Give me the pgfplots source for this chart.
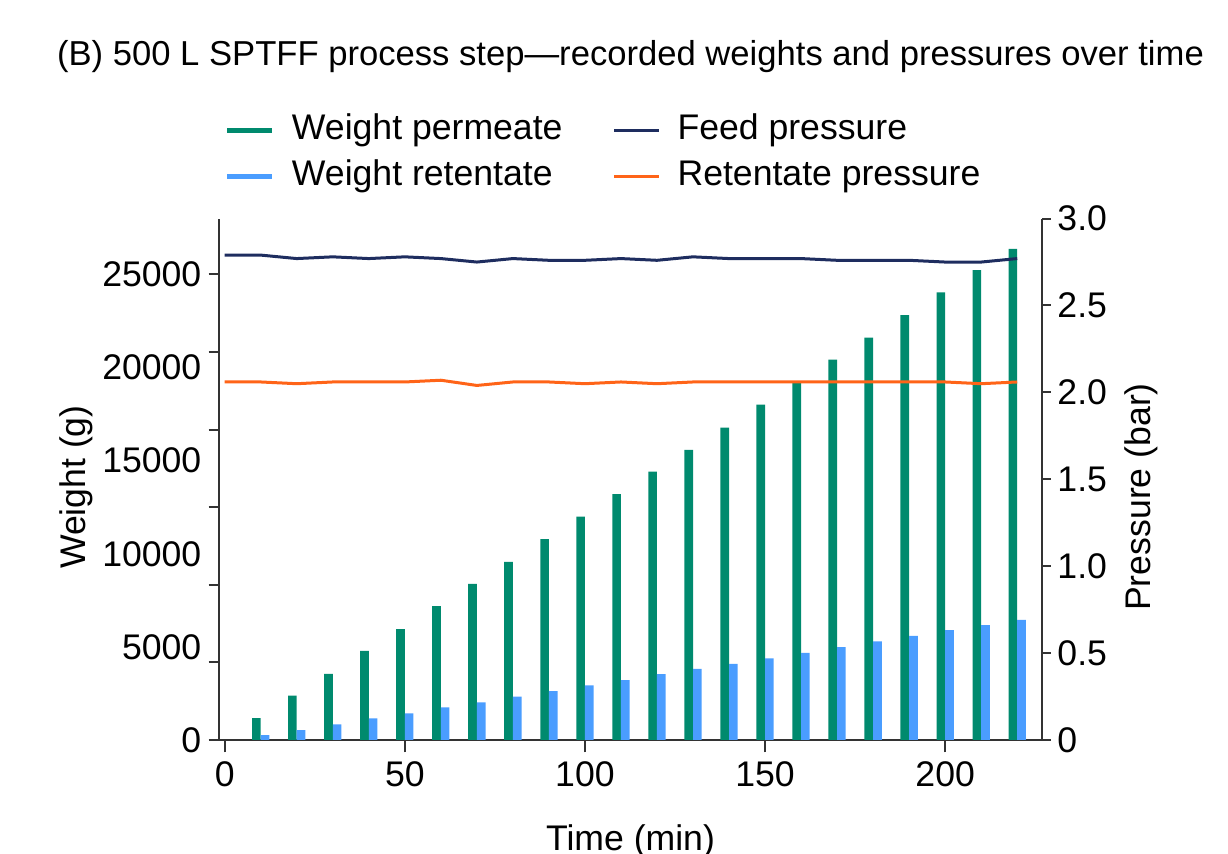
\documentclass[border=0pt]{standalone}
\usepackage{fontspec}
\setmainfont{Liberation Sans}
\usepackage{pgfplots}
\pgfplotsset{compat=1.18}

\definecolor{permc}{HTML}{008A6E}
\definecolor{retc}{HTML}{4A9DFF}
\definecolor{feedc}{HTML}{1E2D5F}
\definecolor{rpc}{HTML}{FF6418}
\definecolor{axc}{HTML}{333333}

\newcommand\cf{\fontsize{14.3}{17}\selectfont}

\pgfplotsset{
  base/.style={
    scale only axis, width=328.96bp, height=208.56bp,
    at={(0,0)}, anchor=south west,
    xmin=-1.5, xmax=226.8,
    tick align=outside,
    axis line style={axc, line width=0.8bp},
    every tick/.style={axc, line width=0.8bp},
    /pgf/number format/assume math mode=true,
    scaled y ticks=false,
    tick label style={font=\cf},
    label style={font=\cf},
  },
}

\begin{document}
\cf
\begin{tikzpicture}[font=\cf]
% left axis: weights as bars
\begin{axis}[base,
  axis y line*=left, axis x line*=bottom,
  ymin=0, ymax=28000,
  ybar, bar width=2.4,
  xtick={0,50,100,150,200},
  xticklabel style={inner sep=0pt, anchor=north, yshift=-3.6bp},
  major tick length=4.9bp,
  ytick={0,5000,10000,15000,20000,25000},
  yticklabels={0,5000,10000,15000,20000,25000},
  every major y tick/.style={draw=none},
  minor ytick={0,4166.67,8333.33,12500,16666.67,20833.33,25000},
  minor tick length=4.3bp,
  every minor y tick/.style={axc, line width=0.8bp},
  yticklabel style={inner sep=0pt, anchor=east, xshift=-2.1bp},
  xlabel={Time (min)},
  xlabel style={at={(axis description cs:0.5,-0.211)}, anchor=base},
  ylabel={Weight (g)},
  ylabel style={at={(axis description cs:-0.1742,0.485)}, anchor=center},
  title={(B) 500 L SPTFF process step—recorded weights and pressures over time},
  title style={at={(axis description cs:0.5,1.2658)}, anchor=base,
    font=\fontsize{13.9}{16}\selectfont},
]
\addplot[draw=none, fill=permc, bar shift=-1.2] coordinates {
  (10,1180) (20,2377) (30,3557) (40,4791) (50,5955) (60,7189) (70,8386)
  (80,9566) (90,10784) (100,12001) (110,13198) (120,14416) (130,15575)
  (140,16776) (150,18010) (160,19169) (170,20425) (180,21605) (190,22818)
  (200,24035) (210,25232) (220,26380)
};
\addplot[draw=none, fill=retc, bar shift=1.2] coordinates {
  (10,268) (20,537) (30,842) (40,1164) (50,1432) (60,1754) (70,2023)
  (80,2323) (90,2629) (100,2935) (110,3219) (120,3541) (130,3825)
  (140,4093) (150,4383) (160,4684) (170,4989) (180,5295) (190,5596)
  (200,5902) (210,6170) (220,6454)
};
\end{axis}

% right axis: pressures as lines
\begin{axis}[base,
  axis y line*=right, axis x line=none,
  ymin=0, ymax=3,
  ytick={0,0.5,1,1.5,2,2.5,3},
  yticklabels={0,0.5,1.0,1.5,2.0,2.5,3.0},
  major tick length=3.7bp,
  yticklabel style={inner sep=0pt, anchor=west, xshift=2.4bp},
  ylabel={Pressure (bar)},
  ylabel style={at={(axis description cs:1.1207,0.466)}, anchor=center},
  legend columns=2,
  legend cell align=left,
  legend style={draw=none, fill=none, inner sep=0pt, outer sep=0pt,
    at={(0.0069,1.2011)}, anchor=north west, font=\cf,
    row sep=4.9bp,
    nodes={inner sep=0pt, text height=10.5bp, text depth=3bp},
    /tikz/every odd column/.append style={column sep=6.8bp},
    /tikz/every even column/.append style={column sep=20bp}},
]
\addlegendimage{legend image code/.code={\draw[permc, line width=2bp] (0bp,0bp) -- (18bp,0bp);}}
\addlegendentry{Weight permeate}
\addplot[feedc, line width=1.2bp, legend image code/.code={\draw[feedc, line width=1.2bp] (0bp,0bp) -- (18bp,0bp);}] coordinates {
  (0,2.79) (10,2.79) (20,2.77) (30,2.78) (40,2.77) (50,2.78) (60,2.77)
  (70,2.75) (80,2.77) (90,2.76) (100,2.76) (110,2.77) (120,2.76)
  (130,2.78) (140,2.77) (150,2.77) (160,2.77) (170,2.76) (180,2.76)
  (190,2.76) (200,2.75) (210,2.75) (220,2.77)
};
\addlegendentry{Feed pressure}
\addlegendimage{legend image code/.code={\draw[retc, line width=2bp] (0bp,0bp) -- (18bp,0bp);}}
\addlegendentry{Weight retentate}
\addplot[rpc, line width=1.2bp, legend image code/.code={\draw[rpc, line width=1.2bp] (0bp,0bp) -- (18bp,0bp);}] coordinates {
  (0,2.06) (10,2.06) (20,2.05) (30,2.06) (40,2.06) (50,2.06) (60,2.07)
  (70,2.04) (80,2.06) (90,2.06) (100,2.05) (110,2.06) (120,2.05)
  (130,2.06) (140,2.06) (150,2.06) (160,2.06) (170,2.06) (180,2.06)
  (190,2.06) (200,2.06) (210,2.05) (220,2.06)
};
\addlegendentry{Retentate pressure}
\end{axis}

\pgfresetboundingbox
\useasboundingbox (-87.72bp,-45.6bp) rectangle (403.48bp,296bp);
\end{tikzpicture}
\end{document}
